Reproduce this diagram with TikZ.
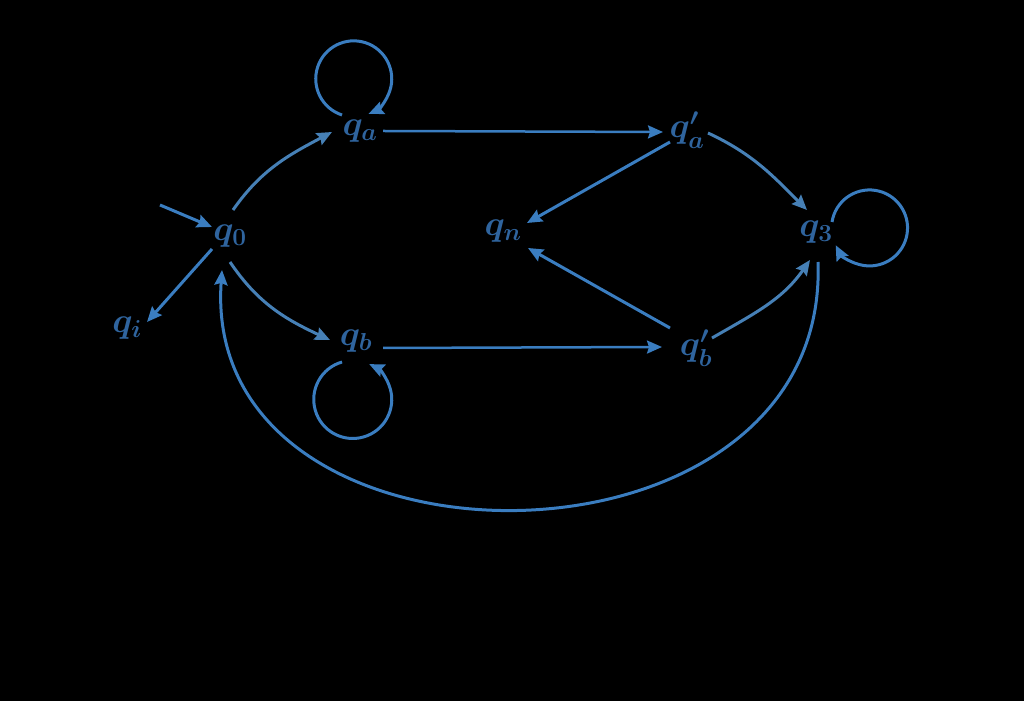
\RequirePackage{fix-cm}
\documentclass[tikz,border=0pt]{standalone}
\usetikzlibrary{arrows.meta}
\definecolor{edgeblue}{RGB}{58,125,192}
\definecolor{curveblue}{RGB}{70,128,182}
\definecolor{labelblue}{RGB}{47,100,158}
\tikzset{
  state/.style={inner sep=0pt, text=labelblue, font=\fontsize{35}{40}\selectfont\boldmath},
  edge/.style={draw=edgeblue, line width=3pt, -{Stealth[length=15pt,width=13pt,inset=2pt]}},
  thinedge/.style={edge, line width=2.5pt},
  curveedge/.style={edge, draw=curveblue},
}
\begin{document}
\begin{tikzpicture}[x=1pt,y=1pt]
\fill[black] (0,0) rectangle (1024,701);
\useasboundingbox (0,0) rectangle (1024,701);

\node[state] (q0)  at (230,465) {$q_0$};
\node[state] (qa)  at (360,570) {$q_a$};
\node[state] (qap) at (687,571) {$q'_a$};
\node[state] (q3)  at (816,469) {$q_3$};
\node[state] (qn)  at (503,470) {$q_n$};
\node[state] (qbp) at (696,353) {$q'_b$};
\node[state] (qb)  at (356,360) {$q_b$};
\node[state] (qi)  at (127,373) {$q_i$};
\coordinate (init) at (160,496);

% initial arrow
\draw[edge] (init) -- ([shift={(-18,9)}]q0.center);
% q0 -> qi
\draw[edge] ([shift={(-18,-13)}]q0.center) -- ([shift={(20,6)}]qi.center);
% q0 -> qa, q0 -> qb
\draw[curveedge] ([shift={(3,26)}]q0.center) to[out=55,in=208] ([shift={(-28,-1)}]qa.center);
\draw[curveedge] ([shift={(0,-26)}]q0.center) to[out=-56,in=155] ([shift={(-26,1)}]qb.center);
% straight long edges
\draw[thinedge] ([shift={(23,0)}]qa.center) -- ([shift={(-24,-2)}]qap.center);
\draw[thinedge] ([shift={(27,-7)}]qb.center) -- ([shift={(-34,1)}]qbp.center);
% to qn
\draw[edge] ([shift={(-17,-12)}]qap.center) -- ([shift={(24,8)}]qn.center);
\draw[edge] ([shift={(-26,20)}]qbp.center) -- ([shift={(25,-17)}]qn.center);
% to q3
\draw[curveedge] ([shift={(21,-3)}]qap.center) to[out=-25,in=135] ([shift={(-9,22)}]q3.center);
\draw[curveedge] ([shift={(16,10)}]qbp.center) to[out=30,in=235] ([shift={(-6,-28)}]q3.center);
% q3 -> q0 big arc
\draw[edge] ([shift={(2,-30)}]q3.center) .. controls (830,111) and (200,111) .. ([shift={(-8,-34)}]q0.center);
% self loops
\draw[edge] ([shift={(-18,16)}]qa.center) arc[start angle=252, end angle=-67, radius=38];
\draw[edge] ([shift={(16,10)}]q3.center) arc[start angle=171, end angle=-153, radius=38];
\draw[edge] ([shift={(-14,-21)}]qb.center) arc[start angle=106, end angle=425, radius=39];
\end{tikzpicture}
\end{document}
